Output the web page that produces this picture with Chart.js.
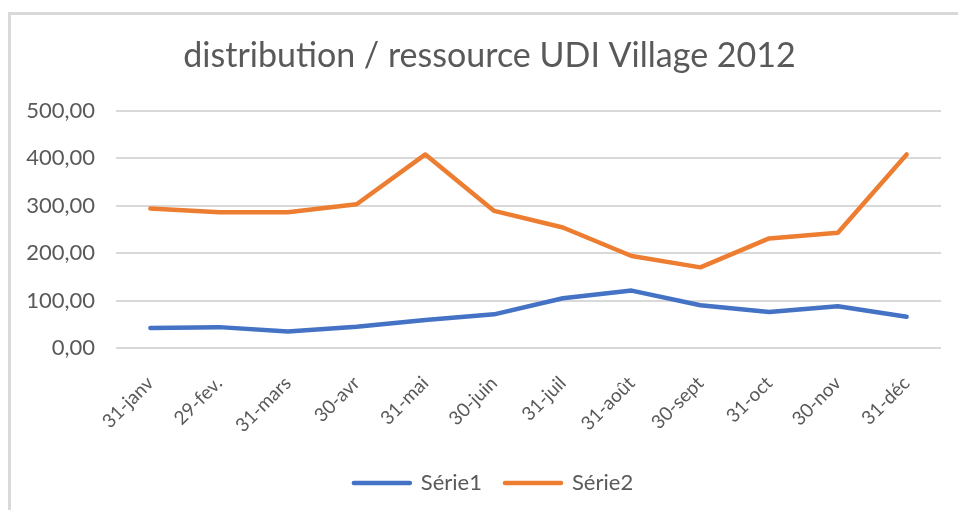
<!DOCTYPE html>
<html>
<head>
<meta charset="utf-8">
<script src="https://cdn.jsdelivr.net/npm/chart.js@4"></script>
<style>
  html, body { margin: 0; padding: 0; background: #fff; overflow: hidden; }
  #wrap { position: relative; width: 958px; height: 510px; }
  #frame {
    position: absolute; left: 8px; top: 12px; width: 980px; height: 520px;
    border-left: 3px solid #d9d9d9; border-top: 3px solid #d9d9d9;
    pointer-events: none;
  }
</style>
</head>
<body>
<div id="wrap">
  <canvas id="chart" width="958" height="510"></canvas>
  <div id="frame"></div>
</div>
<script>
const labels = ["31-janv", "29-fev.", "31-mars", "30-avr", "31-mai", "30-juin", "31-juil", "31-août", "30-sept", "31-oct", "30-nov", "31-déc"];
const serie1 = [42, 44, 35, 45, 59, 71, 105, 121, 90, 76, 88, 66];
const serie2 = [294, 286, 286, 303, 408, 289, 254, 194, 170, 231, 243, 408];
const yTicks = [0, 100, 200, 300, 400, 500];

const grey = "#595959";
const font = "Lato";

function frNum(v) {
  return v.toFixed(2).replace(".", ",");
}

// title and legend sit centred on the whole frame, not on the plot
const shiftBoxes = {
  id: "shiftBoxes",
  afterLayout(chart) {
    chart.titleBlock.left += 19;
    chart.titleBlock.right += 19;
    chart.legend.left += 23;
    chart.legend.right += 23;
  }
};

new Chart(document.getElementById("chart"), {
  type: "line",
  data: {
    labels: labels,
    datasets: [
      { label: "Série1", data: serie1, borderColor: "#4472c4", backgroundColor: "#4472c4", borderWidth: 4.5, pointRadius: 0, tension: 0, borderJoinStyle: "round", borderCapStyle: "round" },
      { label: "Série2", data: serie2, borderColor: "#ed7d31", backgroundColor: "#ed7d31", borderWidth: 4.5, pointRadius: 0, tension: 0, borderJoinStyle: "round", borderCapStyle: "round" }
    ]
  },
  options: {
    responsive: false,
    animation: false,
    layout: { padding: { left: 0, right: 17, top: 0, bottom: 6 } },
    plugins: {
      tooltip: { enabled: false },
      title: {
        display: true,
        text: "distribution / ressource UDI Village 2012",
        color: grey,
        font: { family: font, size: 34, weight: "normal" },
        padding: { top: 36, bottom: 34 }
      },
      legend: {
        position: "bottom",
        labels: {
          color: grey,
          font: { family: font, size: 22 },
          boxWidth: 56,
          boxHeight: 0,
          padding: 23
        }
      }
    },
    scales: {
      x: {
        offset: true,
        grid: { display: false },
        border: { display: false },
        ticks: { color: grey, font: { family: font, size: 19 }, minRotation: 45, maxRotation: 45, padding: 16, autoSkip: false },
        afterFit: s => { s.height = 101; }
      },
      y: {
        min: 0,
        max: 500,
        afterBuildTicks: s => { s.ticks = yTicks.map(v => ({ value: v })); },
        grid: { color: "#d9d9d9", lineWidth: 2, drawTicks: false },
        border: { display: false },
        ticks: { color: grey, font: { family: font, size: 22 }, padding: 21, callback: v => frNum(v) },
        afterFit: s => { s.width = 116; }
      }
    }
  },
  plugins: [shiftBoxes]
});
</script>
</body>
</html>
